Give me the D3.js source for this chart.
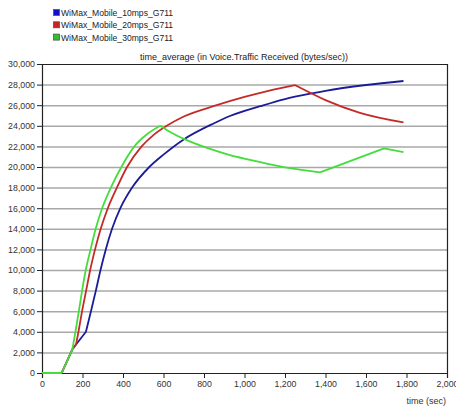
<!DOCTYPE html>
<html>
<head>
<meta charset="utf-8">
<script src="https://cdn.jsdelivr.net/npm/d3@7"></script>
<style>
  body { margin: 0; background: #fff; }
  text { font-family: "Liberation Sans", Arial, sans-serif; }
</style>
</head>
<body>
<div class="chart"></div>
<script>
// series names
const seriesNames = ["WiMax_Mobile_10mps_G711", "WiMax_Mobile_20mps_G711", "WiMax_Mobile_30mps_G711"];
const lineColors = ["#1c1c9a", "#c42a26", "#44dd3c"];
const legendColors = ["#1010c8", "#d02020", "#30c030"];

// values: [time (sec), bytes/sec]
const mobile10 = [[0,0],[97,0],[150,2300],[217,4000],[243,6100],[266,8000],[289,10000],[315,12000],[346,14000],
  [387,16000],[445,18000],[530,20000],[600,21200],[698,22650],[850,24250],[928,24950],[1077,25900],[1200,26600],
  [1332,27150],[1400,27400],[1600,27960],[1785,28350]];
const mobile20 = [[0,0],[97,0],[150,2300],[168,2760],[180,4000],[198,6000],[218,8000],[238,10000],[262,12000],
  [290,14000],[325,16000],[370,18000],[420,20000],[492,22000],[550,23100],[616,24000],[700,24900],[863,26000],
  [1000,26800],[1118,27400],[1249,27960],[1400,26500],[1570,25260],[1785,24330]];
const mobile30 = [[0,0],[97,0],[150,2300],[165,4000],[182,6000],[198,8000],[216,10000],[240,12000],[265,14000],
  [297,16000],[340,18000],[392,20000],[456,22000],[520,23200],[585,24000],[620,23550],[698,22750],[830,21750],
  [928,21150],[1027,20700],[1200,19960],[1373,19480],[1689,21810],[1785,21450]];
const allSeries = [mobile10, mobile20, mobile30];
// times where a line bends sharply
const kinks = [[97, 150, 217], [97, 150, 168, 1249], [97, 150, 585, 1373, 1689]];

const xTicks = d3.range(0, 2001, 200);
const yTicks = d3.range(0, 30001, 2000);

const chartTitle = "time_average (in Voice.Traffic Received (bytes/sec))";
const xLabel = "time (sec)";

const W = 456, H = 410;
const margin = {top: 64, right: 9, bottom: 37, left: 42};
const width = W - margin.left - margin.right,
      height = H - margin.top - margin.bottom;

const svg = d3.select(".chart").append("svg")
  .attr("width", W).attr("height", H);

const g = svg.append("g")
  .attr("transform", "translate(" + margin.left + "," + margin.top + ")");

const x = d3.scaleLinear().domain([0, 2000]).range([0, width]);
const y = d3.scaleLinear().domain([0, 30000]).range([height, 0]);

// grid
g.append("g").selectAll("line")
  .data(yTicks.filter(d => d > 0 && d < 30000))
  .enter().append("line")
  .attr("x1", 0).attr("x2", width)
  .attr("y1", d => y(d) + 0.5).attr("y2", d => y(d) + 0.5)
  .attr("stroke", "#a8a8a8").attr("stroke-width", 1.5);

// frame top and right
g.append("line").attr("x1", 0).attr("x2", width).attr("y1", 0.5).attr("y2", 0.5)
  .attr("stroke", "#222").attr("stroke-width", 1.2);
g.append("line").attr("x1", width + 0.5).attr("x2", width + 0.5).attr("y1", 0).attr("y2", height)
  .attr("stroke", "#222").attr("stroke-width", 1.2);

// axes
const fmt = d3.format(",");
const yAxis = g.append("g")
  .call(d3.axisLeft(y).tickValues(yTicks).tickFormat(fmt).tickSize(5).tickPadding(2));
const xAxis = g.append("g")
  .attr("transform", "translate(0," + height + ")")
  .call(d3.axisBottom(x).tickValues(xTicks).tickFormat(fmt).tickSize(5).tickPadding(3));
[xAxis, yAxis].forEach(a => {
  a.select(".domain").attr("stroke", "#222").attr("stroke-width", 1.2);
  a.selectAll(".tick line").attr("stroke", "#222");
  a.selectAll("text").attr("fill", "#333").style("font-size", "8.8px")
    .style("font-family", "'Liberation Sans', Arial, sans-serif");
});

// split a series at its kinks, each piece drawn smooth
function pieces(data, ks) {
  let out = [], cur = [];
  data.forEach(p => {
    cur.push(p);
    if (ks.includes(p[0])) { out.push(cur); cur = [p]; }
  });
  if (cur.length > 1) out.push(cur);
  return out;
}

const line = d3.line().x(d => x(d[0])).y(d => y(d[1])).curve(d3.curveMonotoneX);
allSeries.forEach((s, i) => {
  g.append("path")
    .attr("d", pieces(s, kinks[i]).map(p => line(p)).join(""))
    .attr("fill", "none")
    .attr("stroke", lineColors[i])
    .attr("stroke-width", 1.8)
    .attr("stroke-linejoin", "round");
});

// title
svg.append("text")
  .attr("x", 244).attr("y", 60)
  .attr("text-anchor", "middle")
  .style("font-size", "9px").attr("fill", "#222")
  .text(chartTitle);

// x label
svg.append("text")
  .attr("x", 446).attr("y", 404)
  .attr("text-anchor", "end")
  .style("font-size", "9px").attr("fill", "#333")
  .text(xLabel);

// legend
const legend = svg.append("g");
seriesNames.forEach((name, i) => {
  const yy = 9 + i * 12.3;
  legend.append("rect")
    .attr("x", 53.5).attr("y", yy + 0.5).attr("width", 6).attr("height", 6)
    .attr("fill", legendColors[i]).attr("stroke", "#555").attr("stroke-width", 0.8);
  legend.append("text")
    .attr("x", 61).attr("y", yy + 7)
    .style("font-size", "8.6px").attr("fill", "#222")
    .text(name);
});
</script>
</body>
</html>
